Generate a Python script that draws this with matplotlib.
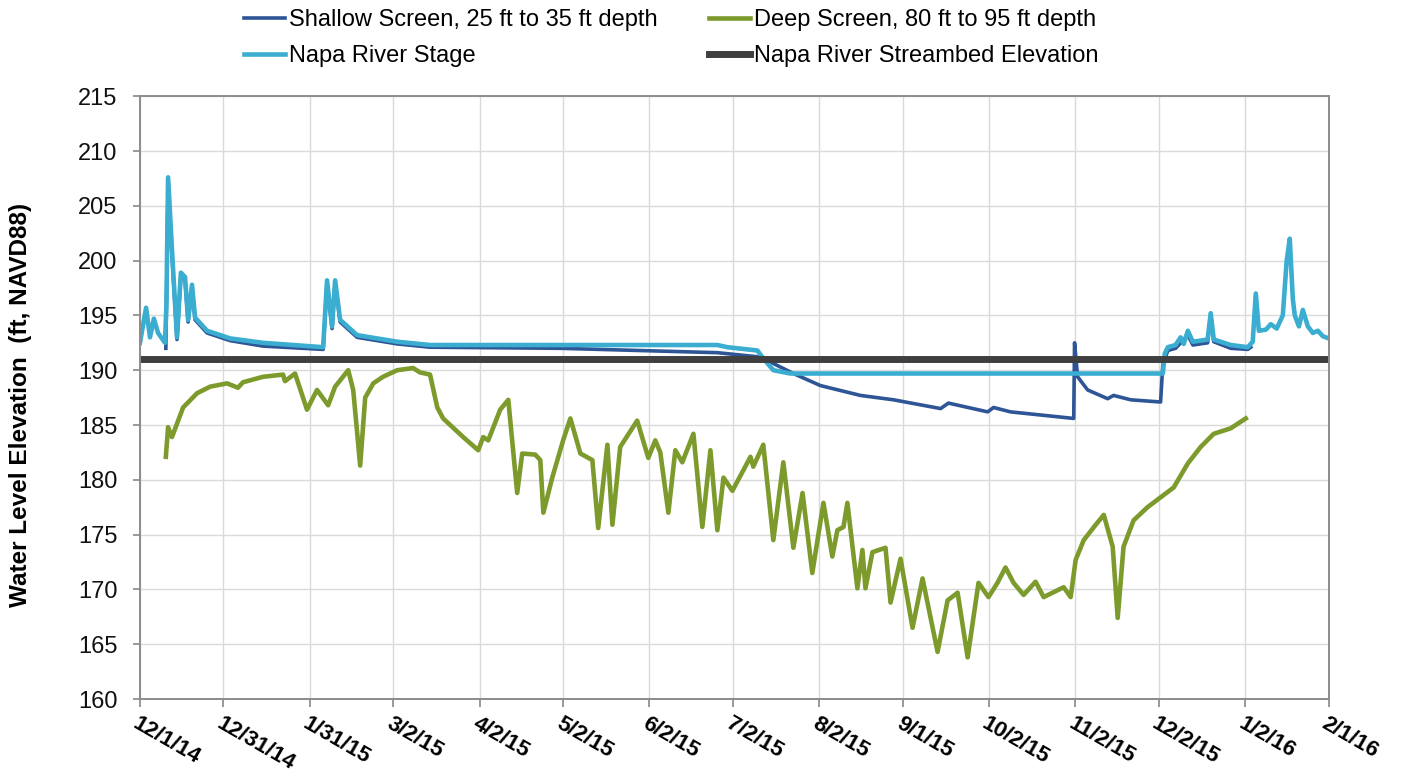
import matplotlib.pyplot as plt
import pandas as pd

plt.rcParams['font.family'] = ['Liberation Sans', 'DejaVu Sans']

# All series use days since 12/1/14 on the x axis
start = pd.Timestamp('2014-12-01')

shallow_day = [9.3, 10.1, 11.5, 13.3, 14.7, 16.2, 17.3, 18.7, 19.8, 24.1, 32.4, 44.2,
               65.8, 67.2, 69.0, 70.1, 71.9, 78.0, 92.4, 104.2, 151.0, 207.4, 222.9,
               234.7, 244.4, 258.8, 270.7, 287.6, 290.4, 304.5, 306.6, 312.7, 335.4,
               335.7, 336.8, 340.4, 347.6, 349.7, 355.9, 366.6, 367.4, 369.2, 372.0,
               376.4, 378.2, 383.5, 384.6, 385.7, 391.8, 397.9, 399.0]
shallow_ft = [192.0, 207.0, 200.5, 192.8, 198.6, 198.2, 194.4, 197.5, 194.6, 193.4, 192.7,
              192.2, 191.9, 198.0, 193.8, 198.0, 194.4, 193.0, 192.4, 192.1, 192.0, 191.6,
              191.2, 189.7, 188.6, 187.7, 187.3, 186.5, 187.0, 186.2, 186.6, 186.2, 185.6,
              192.5, 189.4, 188.2, 187.4, 187.7, 187.3, 187.1, 190.5, 191.8, 192.0,
              193.2, 192.3, 192.5, 195.0, 192.6, 192.0, 191.9, 192.1]

deep_day = [9.3, 10.1, 11.5, 15.5, 20.5, 25.2, 31.3, 35.2, 37.0, 44.2, 51.4, 52.1, 55.7,
            60.0, 63.6, 67.6, 70.1, 74.8, 76.6, 79.1, 80.9, 83.8, 87.3, 92.4, 98.1, 100.6,
            104.2, 106.8, 108.9, 116.1, 121.5, 123.3, 125.1, 129.4, 132.3, 135.5, 137.3,
            142.0, 143.8, 144.9, 148.1, 152.0, 154.6, 158.2, 162.5, 164.6, 167.9, 169.7,
            172.5, 178.6, 182.6, 185.1, 186.9, 189.8, 192.3, 194.8, 198.8, 202.0, 204.9,
            207.4, 209.6, 212.8, 219.3, 220.3, 223.9, 227.5, 231.1, 234.7, 238.0, 241.5,
            245.5, 248.7, 250.5, 252.7, 254.1, 257.7, 259.5, 260.6, 263.1, 267.8, 269.6,
            273.2, 277.5, 281.1, 286.5, 290.1, 293.7, 297.3, 301.2, 304.8, 308.0, 310.9,
            313.8, 317.4, 321.7, 324.6, 331.8, 334.3, 336.1, 339.0, 343.3, 346.2, 349.4,
            351.2, 353.3, 356.9, 361.9, 366.6, 371.3, 376.4, 381.0, 385.7, 391.8, 397.2]
deep_ft = [182.1, 184.8, 183.9, 186.6, 187.9, 188.5, 188.8, 188.4, 188.9, 189.4, 189.6,
           189.0, 189.7, 186.4, 188.2, 186.8, 188.5, 190.0, 188.2, 181.3, 187.5, 188.8,
           189.4, 190.0, 190.2, 189.8, 189.6, 186.6, 185.6, 183.9, 182.7, 183.9, 183.6,
           186.4, 187.3, 178.8, 182.4, 182.3, 181.8, 177.0, 180.2, 183.6, 185.6, 182.4,
           181.8, 175.6, 183.2, 175.9, 183.0, 185.4, 182.0, 183.6, 182.5, 177.0, 182.7,
           181.6, 184.2, 175.7, 182.7, 175.4, 180.2, 179.0, 182.1, 181.2, 183.2, 174.5,
           181.6, 173.8, 178.8, 171.5, 177.9, 173.0, 175.4, 175.7, 177.9, 170.1, 173.6,
           170.1, 173.4, 173.8, 168.8, 172.8, 166.5, 171.0, 164.3, 169.0, 169.7, 163.8,
           170.6, 169.3, 170.6, 172.0, 170.6, 169.5, 170.7, 169.3, 170.2, 169.3, 172.7,
           174.5, 175.9, 176.8, 173.9, 167.4, 173.9, 176.3, 177.5, 178.4, 179.3, 181.5,
           183.0, 184.2, 184.7, 185.6]

stage_day = [0.0, 2.2, 3.6, 5.0, 6.5, 9.0, 9.5, 10.1, 11.5, 13.3, 14.7, 16.2, 17.3, 18.7,
             19.8, 24.1, 32.4, 44.2, 65.8, 67.2, 69.0, 70.1, 71.9, 78.0, 92.4, 104.2,
             151.0, 207.4, 211.0, 221.8, 222.9, 227.5, 233.6, 367.4, 368.1, 369.2, 372.0,
             373.8, 374.9, 376.4, 378.2, 383.5, 384.6, 385.7, 391.8, 397.9, 399.7, 400.8,
             401.9, 404.4, 406.2, 408.3, 410.5, 411.9, 413.0, 414.1, 414.8, 416.3, 417.7,
             419.5, 421.3, 423.1, 424.9, 427.0]
stage_ft = [192.5, 195.7, 193.0, 194.7, 193.4, 192.5, 196.0, 207.6, 201.0, 193.0, 198.9,
            198.5, 194.6, 197.8, 194.8, 193.6, 192.9, 192.5, 192.1, 198.2, 194.0, 198.2,
            194.6, 193.2, 192.6, 192.3, 192.3, 192.3, 192.1, 191.8, 191.4, 190.0, 189.7,
            189.7, 191.5, 192.1, 192.3, 193.0, 192.4, 193.6, 192.6, 192.8, 195.2, 192.8,
            192.3, 192.1, 192.6, 197.0, 193.6, 193.7, 194.2, 193.8, 195.0, 200.0, 202.0,
            196.5, 195.0, 194.0, 195.5, 194.0, 193.4, 193.6, 193.1, 192.9]

streambed_day = [0.0, 427.0]
streambed_ft = [191.0, 191.0]

tick_labels = ['12/1/14', '12/31/14', '1/31/15', '3/2/15', '4/2/15', '5/2/15', '6/2/15',
               '7/2/15', '8/2/15', '9/1/15', '10/2/15', '11/2/15', '12/2/15', '1/2/16',
               '2/1/16']


def to_dates(days):
    return start + pd.to_timedelta(days, unit='D')


fig = plt.figure(figsize=(14.08, 7.76), dpi=100)
ax = fig.add_axes([0.0994, 0.0992, 0.8443, 0.7768])

l_shallow, = ax.plot(to_dates(shallow_day), shallow_ft, color='#2E5596', lw=2.6)
l_deep, = ax.plot(to_dates(deep_day), deep_ft, color='#7D9A2C', lw=3.3)
l_stage, = ax.plot(to_dates(stage_day), stage_ft, color='#3BADD0', lw=3.3)
l_bed, = ax.plot(to_dates(streambed_day), streambed_ft, color='#3F3F3F', lw=5.0)

tick_pos = pd.to_datetime(tick_labels, format='%m/%d/%y')
ax.set_xlim(tick_pos[0], tick_pos[-1])
ax.set_ylim(160, 215)
ax.set_yticks(range(160, 216, 5))
ax.set_xticks(tick_pos)
ax.set_xticklabels(tick_labels, rotation=-30, ha='left', va='top',
                   rotation_mode='anchor', fontsize=16, fontweight='bold')
ax.tick_params(axis='y', labelsize=17, length=5, width=1.2, color='#888888',
               labelcolor='#111111', pad=11)
ax.tick_params(axis='x', length=6, width=1.2, color='#888888', pad=4)

ax.grid(True, color='#DADADA', lw=1.0)
ax.set_axisbelow(True)
for side in ['left', 'bottom', 'right', 'top']:
    ax.spines[side].set_color('#8C8C8C')
    ax.spines[side].set_linewidth(1.4)

ax.set_ylabel('Water Level Elevation  (ft, NAVD88)', fontsize=17.5, fontweight='bold')
ax.yaxis.set_label_coords(-0.091, 0.488)

fig.legend([l_shallow, l_stage, l_deep, l_bed],
           ['Shallow Screen, 25 ft to 35 ft depth', 'Napa River Stage',
            'Deep Screen, 80 ft to 95 ft depth', 'Napa River Streambed Elevation'],
           ncol=2, loc='upper left', bbox_to_anchor=(0.158, 1.016), frameon=False,
           fontsize=17, handlelength=1.75, handletextpad=0.15, columnspacing=2.2,
           labelspacing=0.6)

fig.savefig('out.png', dpi=100)
